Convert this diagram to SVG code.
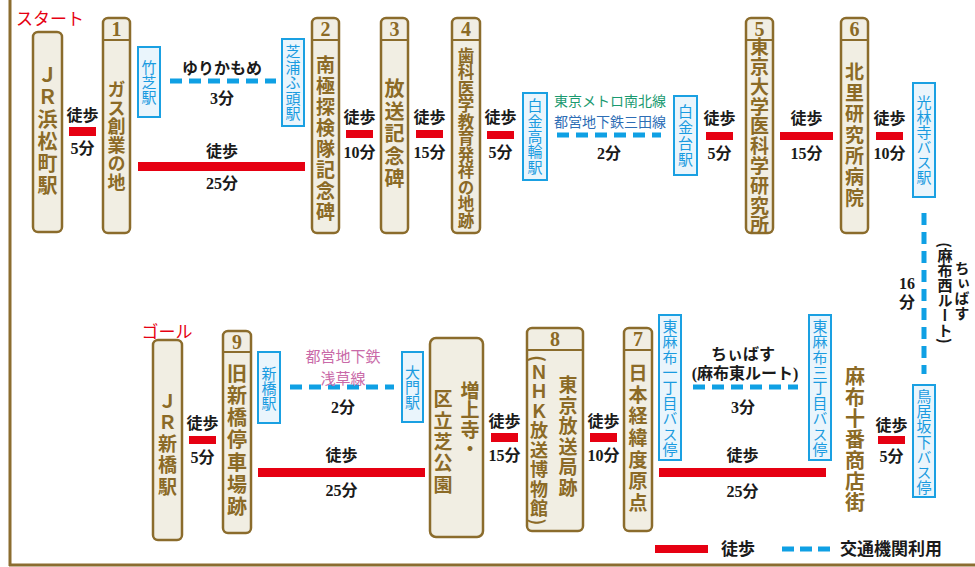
<svg xmlns="http://www.w3.org/2000/svg" width="975" height="567" viewBox="0 0 975 567">
<style>
.nd rect{fill:#f1eee3;stroke:#8b6c2c;stroke-width:2.5}
.nd line{stroke:#8b6c2c;stroke-width:2}
.num{font-family:"Liberation Serif",serif;font-weight:bold;font-size:20px;fill:#8b6a26;text-anchor:middle;dominant-baseline:central}
.v{writing-mode:vertical-rl;font-family:"Noto Sans CJK JP",sans-serif;font-weight:bold;fill:#8b6a26;text-anchor:middle}
.st rect{fill:#eaf5fc;stroke:#1aa0e2;stroke-width:2}
.sv{writing-mode:vertical-rl;font-family:"Noto Sans CJK JP",sans-serif;font-size:15px;fill:#1a9be0;text-anchor:middle}
.walk{fill:#e60012}
.dash{stroke:#0fa0e4;stroke-width:5;stroke-dasharray:12 7;fill:none}
.lbl{font-family:"Liberation Serif","Noto Sans CJK JP",serif;font-size:16px;font-weight:bold;fill:#1a1a1a;text-anchor:middle;dominant-baseline:central}
.col{font-family:"Noto Sans CJK JP",sans-serif;font-size:14px;text-anchor:middle;dominant-baseline:central}
.red{font-family:"Noto Sans CJK JP",sans-serif;font-size:17px;fill:#e60012;text-anchor:middle;dominant-baseline:central}
.vl{writing-mode:vertical-rl;font-family:"Noto Sans CJK JP",sans-serif;font-size:15px;font-weight:bold;fill:#1a1a1a;text-anchor:middle}
</style>
<rect width="975" height="567" fill="#fff"/>
<g id="frame" fill="none" stroke="#8b6d30" stroke-width="3">
<line x1="10" y1="0" x2="10" y2="566"/>
<line x1="9" y1="565" x2="975" y2="565"/>
</g>
<text class="red" x="50" y="17">スタート</text>
<text class="red" x="167" y="330">ゴール</text>

<g id="connectors">
<rect class="walk" x="69" y="127" width="27" height="9"/>
<rect class="walk" x="138" y="162" width="167" height="9"/>
<rect class="walk" x="346" y="130" width="27" height="8"/>
<rect class="walk" x="416" y="130" width="27" height="8"/>
<rect class="walk" x="487" y="131" width="27" height="8"/>
<rect class="walk" x="706" y="132" width="27" height="8"/>
<rect class="walk" x="780" y="132" width="53" height="8"/>
<rect class="walk" x="876" y="132" width="27" height="8"/>
<rect class="walk" x="189" y="436" width="27" height="8"/>
<rect class="walk" x="258" y="468" width="167" height="9"/>
<rect class="walk" x="491" y="433" width="27" height="9"/>
<rect class="walk" x="590" y="433" width="27" height="9"/>
<rect class="walk" x="659" y="468" width="167" height="9"/>
<rect class="walk" x="878" y="436" width="27" height="8"/>
<line class="dash" x1="170" y1="81" x2="276" y2="81"/>
<line class="dash" x1="557" y1="135" x2="661" y2="135"/>
<line class="dash" x1="924" y1="213" x2="924" y2="374"/>
<line class="dash" x1="290" y1="387" x2="394" y2="387"/>
<line class="dash" x1="693" y1="387" x2="798" y2="387"/>

<text class="lbl" x="82.5" y="115">徒歩</text><text class="lbl" x="82.5" y="148">5分</text>
<text class="lbl" x="222" y="151">徒歩</text><text class="lbl" x="222" y="183">25分</text>
<text class="lbl" x="222" y="68">ゆりかもめ</text><text class="lbl" x="222" y="98">3分</text>
<text class="lbl" x="359.5" y="117">徒歩</text><text class="lbl" x="359.5" y="152">10分</text>
<text class="lbl" x="429.5" y="117">徒歩</text><text class="lbl" x="429.5" y="152">15分</text>
<text class="lbl" x="500.5" y="117">徒歩</text><text class="lbl" x="500.5" y="152">5分</text>
<text class="col" x="610" y="100" style="fill:#1a9a70">東京メトロ南北線</text>
<text class="col" x="610" y="121" style="fill:#2d6db5">都営地下鉄三田線</text>
<text class="lbl" x="609" y="153">2分</text>
<text class="lbl" x="719.5" y="118">徒歩</text><text class="lbl" x="719.5" y="153">5分</text>
<text class="lbl" x="806.5" y="118">徒歩</text><text class="lbl" x="806.5" y="153">15分</text>
<text class="lbl" x="889.5" y="118">徒歩</text><text class="lbl" x="889.5" y="153">10分</text>
<text class="lbl" x="907" y="283">16</text><text class="lbl" x="907" y="302">分</text>
<text class="vl" x="962" y="291">ちぃばす</text>
<text class="vl" x="945" y="293">(麻布西ルート)</text>

<text class="lbl" x="202.5" y="423">徒歩</text><text class="lbl" x="202.5" y="457">5分</text>
<text class="col" x="343" y="355" style="fill:#c96aa8;font-size:15px">都営地下鉄</text>
<text class="col" x="343" y="377" style="fill:#c96aa8;font-size:15px">浅草線</text>
<text class="lbl" x="343" y="407">2分</text>
<text class="lbl" x="341.5" y="455">徒歩</text><text class="lbl" x="341.5" y="490">25分</text>
<text class="lbl" x="504.5" y="421">徒歩</text><text class="lbl" x="504.5" y="455">15分</text>
<text class="lbl" x="603.5" y="421">徒歩</text><text class="lbl" x="603.5" y="455">10分</text>
<text class="lbl" x="743" y="354">ちぃばす</text>
<text class="lbl" x="745" y="373">(麻布東ルート)</text>
<text class="lbl" x="743" y="407">3分</text>
<text class="lbl" x="742.5" y="455">徒歩</text><text class="lbl" x="742.5" y="491">25分</text>
<text class="lbl" x="891.5" y="425">徒歩</text><text class="lbl" x="891.5" y="456">5分</text>
</g>

<g id="n-jr-hamamatsucho" class="nd"><rect x="33" y="32" width="29" height="200" rx="5"/><text class="v" x="47.5" y="131" style="font-size:20px;letter-spacing:2px">ＪＲ浜松町駅</text></g>
<g id="n1" class="nd"><rect x="103" y="18" width="27" height="215" rx="5"/><line x1="103" y1="40" x2="130" y2="40"/><text class="num" x="116.5" y="29">1</text><text class="v" x="116.5" y="136" style="font-size:18px;letter-spacing:0.5px">ガス創業の地</text></g>
<g id="n2" class="nd"><rect x="312" y="18" width="27" height="215" rx="5"/><line x1="312" y1="40" x2="339" y2="40"/><text class="num" x="325.5" y="29">2</text><text class="v" x="325.5" y="139" style="font-size:19px;letter-spacing:2px">南極探検隊記念碑</text></g>
<g id="n3" class="nd"><rect x="381" y="18" width="27" height="215" rx="5"/><line x1="381" y1="40" x2="408" y2="40"/><text class="num" x="394.5" y="29">3</text><text class="v" x="394.5" y="135" style="font-size:20px;letter-spacing:2.6px">放送記念碑</text></g>
<g id="n4" class="nd"><rect x="452" y="18" width="28" height="215" rx="5"/><line x1="452" y1="40" x2="480" y2="40"/><text class="num" x="466" y="29">4</text><text class="v" x="466" y="138" style="font-size:16.5px">歯科医学教育発祥の地跡</text></g>
<g id="n5" class="nd"><rect x="746" y="18" width="27" height="215" rx="5"/><line x1="746" y1="40" x2="773" y2="40"/><text class="num" x="759.5" y="29">5</text><text class="v" x="759.5" y="136.5" style="font-size:19px;letter-spacing:0.8px">東京大学医科学研究所</text></g>
<g id="n6" class="nd"><rect x="841" y="18" width="27" height="215" rx="5"/><line x1="841" y1="40" x2="868" y2="40"/><text class="num" x="854.5" y="29">6</text><text class="v" x="854.5" y="136" style="font-size:19px;letter-spacing:2px">北里研究所病院</text></g>

<g id="s-takeshiba" class="st"><rect x="138" y="47" width="22" height="70"/><text class="sv" x="149" y="82">竹芝駅</text></g>
<g id="s-shibaurafuto" class="st"><rect x="282" y="39" width="22" height="87"/><text class="sv" x="293" y="83" style="letter-spacing:0.5px">芝浦ふ頭駅</text></g>
<g id="s-shirokanetakanawa" class="st"><rect x="523" y="93" width="24" height="87"/><text class="sv" x="535" y="136.5" style="letter-spacing:0.3px">白金高輪駅</text></g>
<g id="s-shirokanedai" class="st"><rect x="674" y="96" width="23" height="79"/><text class="sv" x="685.5" y="136" style="letter-spacing:1px">白金台駅</text></g>
<g id="s-korinji" class="st"><rect x="913" y="83" width="22" height="114"/><text class="sv" x="924" y="140">光林寺バス駅</text></g>

<g id="n-jr-shimbashi" class="nd"><rect x="153" y="340" width="29" height="200" rx="5"/><text class="v" x="167.5" y="445" style="font-size:19px;letter-spacing:2.4px">ＪＲ新橋駅</text></g>
<g id="n9" class="nd"><rect x="223" y="331" width="28" height="202" rx="5"/><line x1="223" y1="352" x2="251" y2="352"/><text class="num" x="237" y="342">9</text><text class="v" x="237" y="441" style="font-size:20px;letter-spacing:2.3px">旧新橋停車場跡</text></g>
<g id="n-zojoji" class="nd"><rect x="430" y="338" width="53" height="199" rx="6"/><text class="v" x="470" y="420" style="font-size:19px;letter-spacing:0.5px">増上寺・</text><text class="v" x="443" y="443" style="font-size:19px;letter-spacing:2.4px">区立芝公園</text></g>
<g id="n8" class="nd"><rect x="527" y="328" width="56" height="203" rx="5"/><line x1="527" y1="350" x2="583" y2="350"/><text class="num" x="555" y="339">8</text><text class="v" x="568" y="437" style="font-size:19px;letter-spacing:1.5px">東京放送局跡</text><text class="v" x="539" y="441" style="font-size:18px;letter-spacing:1.4px">(ＮＨＫ放送博物館)</text></g>
<g id="n7" class="nd"><rect x="624" y="328" width="28" height="203" rx="5"/><line x1="624" y1="350" x2="652" y2="350"/><text class="num" x="638" y="339">7</text><text class="v" x="638" y="439" style="font-size:19px;letter-spacing:2.6px">日本経緯度原点</text></g>
<g id="n-azabujuban"><text class="v" x="855" y="440" style="font-size:20px;letter-spacing:1px">麻布十番商店街</text></g>

<g id="s-shimbashi" class="st"><rect x="258" y="352" width="22" height="71"/><text class="sv" x="269" y="388">新橋駅</text></g>
<g id="s-daimon" class="st"><rect x="402" y="352" width="21" height="70"/><text class="sv" x="412.5" y="387">大門駅</text></g>
<g id="s-higashiazabu1" class="st"><rect x="659" y="315" width="22" height="145"/><text class="sv" x="670" y="388" style="letter-spacing:0.4px">東麻布一丁目バス停</text></g>
<g id="s-higashiazabu3" class="st"><rect x="809" y="315" width="22" height="145"/><text class="sv" x="820" y="388" style="letter-spacing:0.4px">東麻布三丁目バス停</text></g>
<g id="s-toriizaka" class="st"><rect x="913" y="385" width="22" height="112"/><text class="sv" x="924" y="442" style="letter-spacing:0.3px">鳥居坂下バス停</text></g>

<g id="legend">
<rect class="walk" x="655" y="545" width="53" height="8"/>
<text class="lbl" x="738" y="549" style="font-size:17px">徒歩</text>
<line class="dash" x1="782" y1="549" x2="831" y2="549" style="stroke-dasharray:12 6"/>
<text class="lbl" x="891" y="549" style="font-size:17px">交通機関利用</text>
</g>
</svg>
